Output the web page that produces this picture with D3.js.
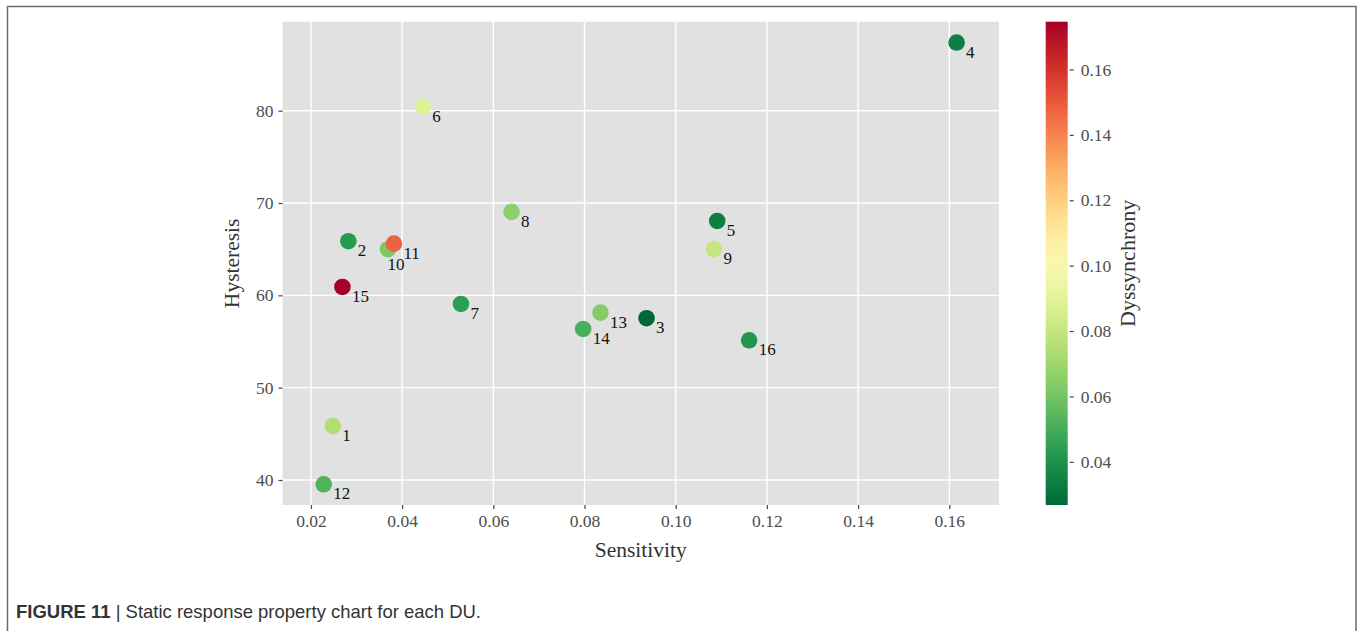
<!DOCTYPE html>
<html>
<head>
<meta charset="utf-8">
<script src="https://cdn.jsdelivr.net/npm/d3@7"></script>
<style>
  html, body { margin: 0; padding: 0; background: #fff; }
  svg { display: block; }
</style>
</head>
<body>
<svg id="chart" width="1360" height="631"></svg>
<script>
// DU identifiers and their static response properties
const units = ["1","2","3","4","5","6","7","8","9","10","11","12","13","14","15","16"];
const sensitivity = [0.0248, 0.0282, 0.0936, 0.1616, 0.1091, 0.0445, 0.0529, 0.0640,
                     0.1084, 0.0369, 0.0382, 0.0228, 0.0835, 0.0797, 0.0269, 0.1161];
const hysteresis = [45.85, 65.86, 57.52, 87.38, 68.06, 80.44, 59.07, 69.04,
                    65.0, 65.0, 65.6, 39.53, 58.13, 56.36, 60.91, 55.13];
const dyssynchrony = [0.075, 0.043, 0.0268, 0.034, 0.0335, 0.089, 0.0445, 0.066,
                      0.080, 0.062, 0.148, 0.052, 0.0638, 0.051, 0.1746, 0.0415];

const xTicks = [0.02, 0.04, 0.06, 0.08, 0.10, 0.12, 0.14, 0.16];
const yTicks = [40, 50, 60, 70, 80];
const cTicks = [0.04, 0.06, 0.08, 0.10, 0.12, 0.14, 0.16];

const svg = d3.select("#chart");
const serif = "'Liberation Serif', 'Times New Roman', serif";

// outer figure frame
svg.append("rect")
  .attr("x", 7.5).attr("y", 6.5)
  .attr("width", 1348.5).attr("height", 640)
  .attr("fill", "none").attr("stroke", "#6b6b6b").attr("stroke-width", 1.5);

// panel geometry
const P = { left: 282.5, top: 21.7, right: 999, bottom: 505 };

const x = d3.scaleLinear().domain([0.01376, 0.1709]).range([P.left, P.right]);
const y = d3.scaleLinear().domain([37.29, 89.64]).range([P.bottom, P.top]);
const cMin = d3.min(dyssynchrony), cMax = d3.max(dyssynchrony);
const colour = v => d3.interpolateRdYlGn(1 - (v - cMin) / (cMax - cMin));

svg.append("rect")
  .attr("x", P.left).attr("y", P.top)
  .attr("width", P.right - P.left).attr("height", P.bottom - P.top)
  .attr("fill", "#e1e1e1");

// grid lines
const grid = svg.append("g").attr("stroke", "#fff").attr("stroke-width", 1.4);
grid.selectAll("line.gx").data(xTicks).join("line")
  .attr("x1", d => x(d)).attr("x2", d => x(d))
  .attr("y1", P.top).attr("y2", P.bottom);
grid.selectAll("line.gy").data(yTicks).join("line")
  .attr("y1", d => y(d)).attr("y2", d => y(d))
  .attr("x1", P.left).attr("x2", P.right);

// axes
const xAxis = svg.append("g")
  .attr("transform", `translate(0,${P.bottom})`)
  .call(d3.axisBottom(x).tickValues(xTicks).tickFormat(d3.format(".2f")).tickSize(4).tickPadding(6));
const yAxis = svg.append("g")
  .attr("transform", `translate(${P.left},0)`)
  .call(d3.axisLeft(y).tickValues(yTicks).tickFormat(d3.format("d")).tickSize(4).tickPadding(5));
[xAxis, yAxis].forEach(g => {
  g.select(".domain").remove();
  g.selectAll(".tick line").attr("stroke", "#444").attr("stroke-width", 1.2);
  g.selectAll(".tick text").attr("fill", "#4d4d4d")
    .style("font-family", serif).style("font-size", "17.5px");
});

svg.append("text")
  .attr("x", (P.left + P.right) / 2).attr("y", 557)
  .attr("text-anchor", "middle")
  .style("font-family", serif).style("font-size", "21.5px").attr("fill", "#333")
  .text("Sensitivity");
svg.append("text")
  .attr("transform", `translate(239,${(P.top + P.bottom) / 2}) rotate(-90)`)
  .attr("text-anchor", "middle")
  .style("font-family", serif).style("font-size", "21.5px").attr("fill", "#333")
  .text("Hysteresis");

// points and their DU labels (label offsets nudge crowded labels apart)
const labelDx = { "10": -0.5 };
const labelDy = { "10": 21 };
const pts = units.map((u, i) => ({ u, sx: sensitivity[i], hy: hysteresis[i], dy: dyssynchrony[i] }));
const marks = svg.append("g");
marks.selectAll("circle").data(pts).join("circle")
  .attr("cx", d => x(d.sx)).attr("cy", d => y(d.hy))
  .attr("r", 8.3)
  .attr("fill", d => colour(d.dy));
marks.selectAll("text").data(pts).join("text")
  .attr("x", d => x(d.sx) + (labelDx[d.u] ?? 9.5))
  .attr("y", d => y(d.hy) + (labelDy[d.u] ?? 15))
  .style("font-family", serif).style("font-size", "17px").attr("fill", "#111")
  .text(d => d.u);

// colour bar
const CB = { x: 1045.7, w: 22, top: P.top, bottom: P.bottom };
const c = d3.scaleLinear().domain([cMin, cMax]).range([CB.bottom, CB.top]);
const defs = svg.append("defs");
const grad = defs.append("linearGradient").attr("id", "cbar")
  .attr("x1", 0).attr("y1", 1).attr("x2", 0).attr("y2", 0);
d3.range(0, 1.0001, 0.05).forEach(t => {
  grad.append("stop").attr("offset", t).attr("stop-color", d3.interpolateRdYlGn(1 - t));
});
svg.append("rect")
  .attr("x", CB.x).attr("y", CB.top)
  .attr("width", CB.w).attr("height", CB.bottom - CB.top)
  .attr("fill", "url(#cbar)");
const cAxis = svg.append("g")
  .attr("transform", `translate(${CB.x + CB.w},0)`)
  .call(d3.axisRight(c).tickValues(cTicks).tickFormat(d3.format(".2f")).tickSize(0).tickPadding(13));
cAxis.select(".domain").remove();
cAxis.selectAll(".tick text").attr("fill", "#4d4d4d")
  .style("font-family", serif).style("font-size", "17.5px");
cAxis.selectAll(".tick").append("line")
  .attr("x1", 2).attr("x2", 6).attr("stroke", "#444").attr("stroke-width", 1.2);

svg.append("text")
  .attr("transform", `translate(1135,${(CB.top + CB.bottom) / 2}) rotate(-90)`)
  .attr("text-anchor", "middle")
  .style("font-family", serif).style("font-size", "22px").attr("fill", "#333")
  .text("Dyssynchrony");

// caption
const cap = svg.append("text")
  .attr("x", 16).attr("y", 618)
  .attr("textLength", 465).attr("lengthAdjust", "spacingAndGlyphs")
  .style("font-family", "'Liberation Sans', Arial, sans-serif")
  .style("font-size", "19px").attr("fill", "#333");
cap.append("tspan").attr("font-weight", "bold").text("FIGURE 11");
cap.append("tspan").text(" | Static response property chart for each DU.");
</script>
</body>
</html>
